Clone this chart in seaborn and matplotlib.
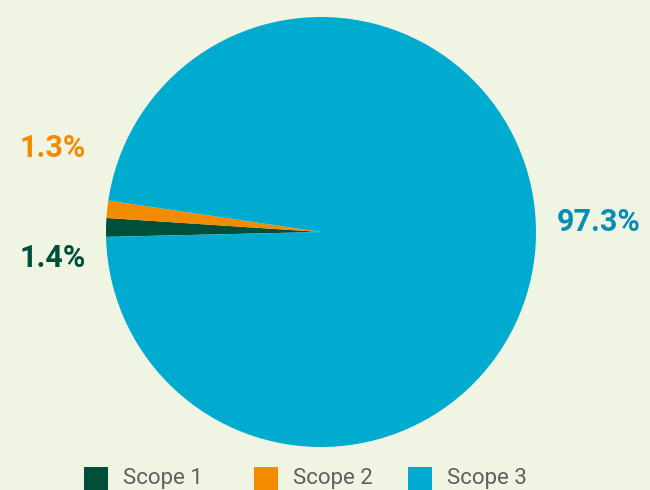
import matplotlib
matplotlib.use("Agg")
import matplotlib.pyplot as plt
import seaborn as sns
from matplotlib.patches import Rectangle

categories = ["Scope 1", "Scope 2", "Scope 3"]
values = [1.4, 1.3, 97.3]
labels = ["1.4%", "1.3%", "97.3%"]
colors = ["#004f3b", "#f28b00", "#00abd0"]
label_colors = ["#004f3b", "#f28b00", "#0a8db5"]

sns.set_theme(style="white")
plt.rcParams["font.family"] = ["Roboto", "DejaVu Sans"]

bg = "#f0f4e3"
W, H = 650, 490
fig = plt.figure(figsize=(6.5, 4.9), dpi=100, facecolor=bg)
ax = fig.add_axes([0, 0, 1, 1])
ax.set_facecolor(bg)

R = 215.0
cx, cy = 321.0, 232.0
ax.pie(values, colors=colors, startangle=181.3, counterclock=False,
       radius=1.0, center=(0, 0), wedgeprops=dict(linewidth=0))
ax.set_aspect("auto")
ax.set_xlim(-cx / R, (W - cx) / R)
ax.set_ylim(-(H - cy) / R, cy / R)
ax.axis("off")

def px(x, y):
    return (x - cx) / R, (cy - y) / R

pos = [(20, 258, "left"), (20, 148, "left"), (641, 222, "right")]
for (x, y, ha), t, c in zip(pos, labels, label_colors):
    dx, dy = px(x, y)
    ax.text(dx, dy, t, ha=ha, va="center", color=c, fontsize=22,
            fontweight="bold")

# legend (manual layout to match reference spacing)
leg_x = [84, 254, 408]
for x, name, c in zip(leg_x, categories, colors):
    fig.add_artist(Rectangle((x / W, 0), 24 / W, 23 / H,
                             transform=fig.transFigure, facecolor=c,
                             edgecolor="none"))
    fig.text((x + 39) / W, 1 - 484 / H, name, ha="left", va="baseline",
             color="#5f5f5f", fontsize=16)

fig.savefig("out.png", dpi=100, facecolor=bg)
